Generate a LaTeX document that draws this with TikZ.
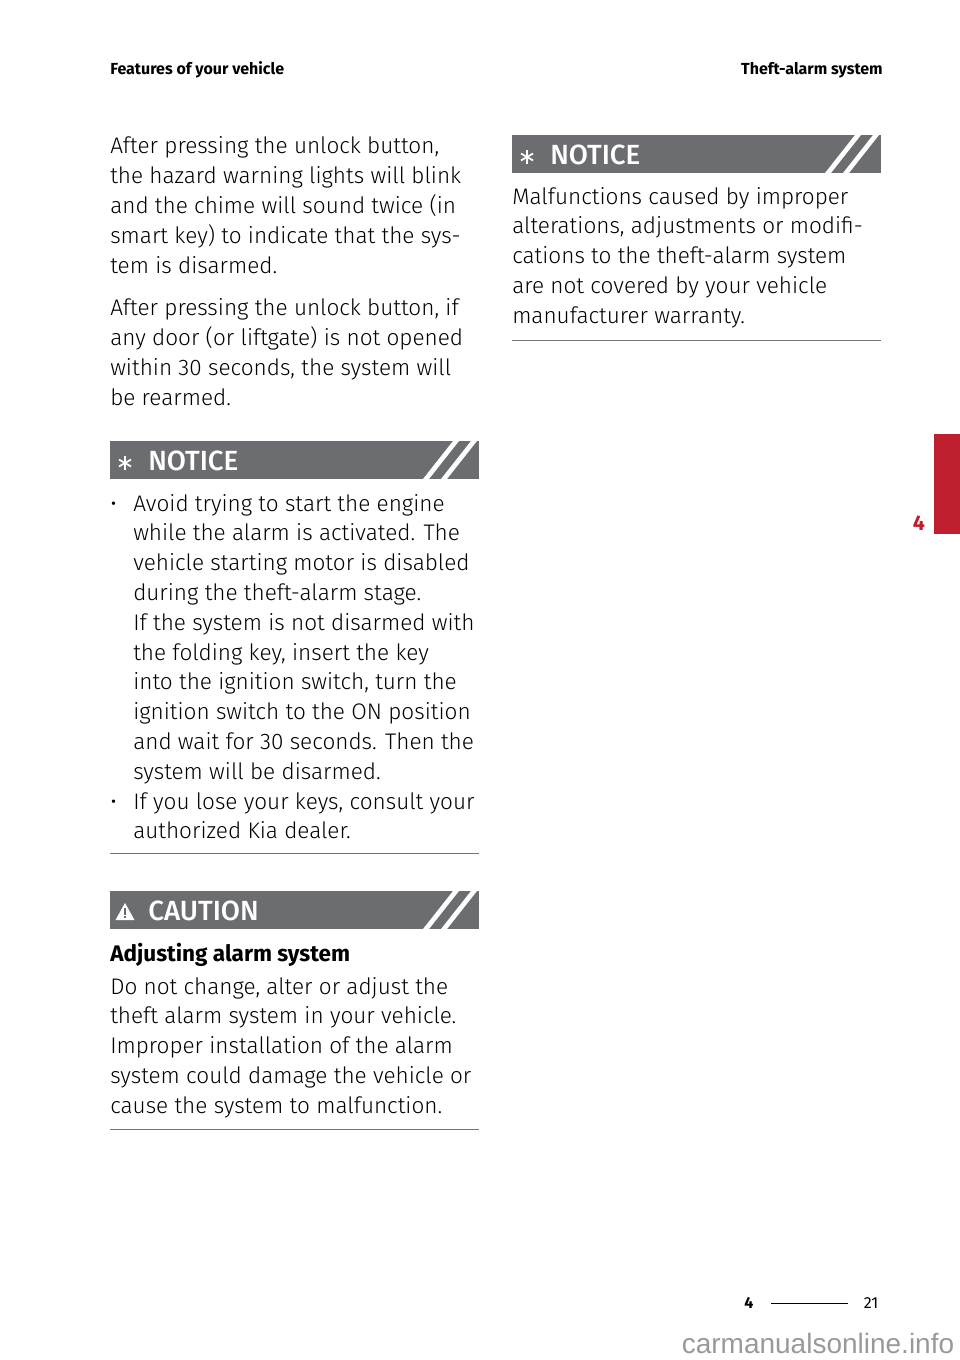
\documentclass[tikz,border=0pt]{standalone}
\usepackage{fontspec}
\setmainfont{Fira Sans}
\newfontfamily\lt{Fira Sans Light}
\begin{document}
\begin{tikzpicture}[x=0.75pt,y=-0.75pt,
  body/.style={anchor=base west,inner sep=0,font=\lt\fontsize{16.9}{20}\selectfont},
  hdr/.style={inner sep=0,font=\bfseries\fontsize{12}{13}\selectfont},
  bantxt/.style={anchor=base west,inner sep=0,text=white,font=\fontspec{Fira Sans Medium}\fontsize{20.8}{24}\selectfont},
  rule/.style={draw=black!55,line width=0.6pt}]
\useasboundingbox (0,0) rectangle (960,1360);
\definecolor{bang}{RGB}{108,109,112}
\definecolor{kred}{RGB}{190,30,45}
\node[hdr,anchor=base west] (h1) at (110,74) {Features of your vehicle};
\node[hdr,anchor=base east] (h2) at (883,74) {Theft-alarm system};
\newcommand{\banner}[4]{%
 \fill[bang] (#1,#2) rectangle (#1+369,#2+38);
 \fill[white] (#1+313,#2+38) -- (#1+343,#2) -- (#1+349,#2) -- (#1+319,#2+38) -- cycle;
 \fill[white] (#1+331,#2+38) -- (#1+361,#2) -- (#1+367,#2) -- (#1+337,#2+38) -- cycle;
 \node[bantxt] at (#1+38,#2+29) {#4};
 \foreach \a in {90,30,150} \draw[white,line width=1.3pt] ([shift={(\a:7)}]#1+15,#2+#3) -- ([shift={(\a+180:7)}]#1+15,#2+#3);}
\foreach \t [count=\i from 0] in {{After pressing the unlock button,},the hazard warning lights will blink,and the chime will sound twice (in,smart key) to indicate that the sys-,tem is disarmed.}
  \node[body] at (110,153+30*\i) {\t};
\foreach \t [count=\i from 0] in {{After pressing the unlock button, if},any door (or liftgate) is not opened,{within 30 seconds, the system will},be rearmed.}
  \node[body] at (110,315+30*\i) {\t};
\banner{110}{441}{22}{NOTICE}
\node[body] at (110,511) {\textbullet};
\foreach \t [count=\i from 0] in {Avoid trying to start the engine,while the alarm is activated. The,vehicle starting motor is disabled,during the theft-alarm stage.,If the system is not disarmed with,{the folding key, insert the key},{into the ignition switch, turn the},ignition switch to the ON position,and wait for 30 seconds. Then the,system will be disarmed.}
  \node[body] at (133,511+29.8*\i) {\t};
\node[body] at (110,809) {\textbullet};
\node[body] at (133,809) {If you lose your keys, consult your};
\node[body] at (133,838) {authorized Kia dealer.};
\draw[rule] (110,853) -- (479,853);
\fill[bang] (110,891) rectangle (479,929);
\fill[white] (423,929) -- (453,891) -- (459,891) -- (429,929) -- cycle;
\fill[white] (441,929) -- (471,891) -- (477,891) -- (447,929) -- cycle;
\fill[white] (125,903) -- (134.5,920) -- (115.5,920) -- cycle;
\fill[bang] (124.2,908) rectangle (125.8,915);
\fill[bang] (124.2,916.3) rectangle (125.8,918.3);
\node[bantxt] at (148,920) {CAUTION};
\node[body,font=\bfseries\fontsize{16.9}{20}\selectfont] at (110,961) {Adjusting alarm system};
\foreach \t [count=\i from 0] in {{Do not change, alter or adjust the},theft alarm system in your vehicle.,Improper installation of the alarm,system could damage the vehicle or,cause the system to malfunction.}
  \node[body] at (110,994+29.8*\i) {\t};
\draw[rule] (110,1129) -- (479,1129);
\banner{512}{135}{22}{NOTICE}
\foreach \t [count=\i from 0] in {Malfunctions caused by improper,{alterations, adjustments or modifi-},cations to the theft-alarm system,are not covered by your vehicle,manufacturer warranty.}
  \node[body] at (512,204+29.8*\i) {\t};
\draw[rule] (512,340) -- (881,340);
\fill[kred] (934,434) rectangle (960,534);
\node[inner sep=0,text=kred,font=\bfseries\fontsize{16}{18}\selectfont] (tab) at (919,523) {4};
\node[hdr,anchor=base] (f1) at (749,1308) {4};
\node[inner sep=0,anchor=base,font=\fontsize{12}{14}\selectfont] (f2) at (871,1308) {21};
\draw[black,line width=0.5pt] (771,1303) -- (848,1303);
\node[inner sep=0,text=black!40,font=\fontsize{21}{24}\selectfont\fontspec{Liberation Sans}] (wm) at (818,1343) {carmanualsonline.info};
\end{tikzpicture}
\end{document}
